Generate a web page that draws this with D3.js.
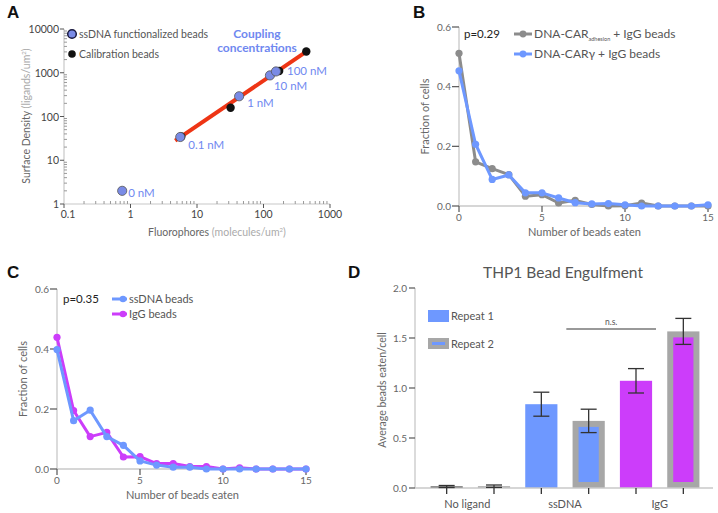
<!DOCTYPE html>
<html><head><meta charset="utf-8">
<script src="https://cdn.jsdelivr.net/npm/d3@7"></script>
<style>body{margin:0;background:#fff}svg{display:block}text{font-family:Lato,"Open Sans",sans-serif}</style>
</head><body>
<svg id="c" width="718" height="513"></svg>
<script>
// ---------- DATA ----------
// Panel A
const ssdnaLabels = ["0 nM","0.1 nM","1 nM","10 nM","100 nM"];
const ssdnaX = [0.75, 5.6, 43, 125, 154];
const ssdnaY = [2, 34, 290, 870, 1070];
const calibX = [5.8, 32, 172, 440];
const calibY = [35, 158, 1100, 3050];
const fitX = [4.7, 440];
const fitY = [28, 3050];
const aXTicks = [0.1, 1, 10, 100, 1000];
const aYTicks = [1, 10, 100, 1000, 10000];
// Panel B
const beadsEaten = d3.range(0, 16);
const bAdhesion = [0.512,0.148,0.125,0.105,0.033,0.038,0.010,0.019,0.005,0.000,0.001,0.010,0.000,0.000,0.000,0.000];
const bGamma    = [0.453,0.207,0.089,0.104,0.044,0.044,0.027,0.011,0.007,0.008,0.004,0.000,0.000,0.000,0.000,0.004];
// Panel C
const cIgG   = [0.439,0.195,0.108,0.122,0.040,0.041,0.018,0.018,0.008,0.008,0.000,0.004,0.000,0.000,0.000,0.000];
const cSsDNA = [0.398,0.161,0.196,0.108,0.079,0.027,0.013,0.006,0.006,0.000,0.000,0.000,0.000,0.000,0.000,0.000];
const fracTicks = [0, 0.2, 0.4, 0.6];
const beadTicks = [0, 5, 10, 15];
// Panel D
const dGroups = ["No ligand","ssDNA","IgG"];
const dRepeats = ["Repeat 1","Repeat 2"];
const dMeans = [[0.015,0.018],[0.838,0.671],[1.072,1.566]];
const dErrs  = [[0.010,0.012],[0.120,0.117],[0.122,0.130]];
const dTicks = [0, 0.5, 1.0, 1.5, 2.0];

// ---------- STYLE ----------
const BLUE="#6e98ff", MAG="#cc3dfa", GRAY="#8c8c8c", RED="#ee3515", PBLUE="#7a8be6", LBLUE="#6f88f0";
const svg = d3.select("#c");
const AX="#c8c8c8", TK="#555", TXT="#666";

function letter(t,x,y){svg.append("text").attr("x",x).attr("y",y).text(t)
  .style("font-family","'Liberation Sans',Arial,sans-serif").style("font-weight","bold").style("font-size","17px").attr("fill","#111");}
letter("A",7,18); letter("B",413,18); letter("C",7,278); letter("D",348,278);

// ---------- PANEL A ----------
(function(){
  const x = d3.scaleLog().domain([0.1,1000]).range([64,330]);
  const y = d3.scaleLog().domain([1,10000]).range([204,29]);
  const g = svg.append("g");
  g.append("line").attr("x1",64).attr("x2",330).attr("y1",204).attr("y2",204).attr("stroke",AX).attr("stroke-width",1.2);
  g.append("line").attr("x1",64).attr("x2",64).attr("y1",29).attr("y2",204).attr("stroke",AX).attr("stroke-width",1.2);
  const minorX = [], minorY = [];
  aXTicks.slice(0,-1).forEach(d=>{for(let k=2;k<10;k++)minorX.push(d*k);});
  aYTicks.slice(0,-1).forEach(d=>{for(let k=2;k<10;k++)minorY.push(d*k);});
  g.selectAll(".mx").data(minorX).join("line").attr("x1",d=>x(d)).attr("x2",d=>x(d)).attr("y1",204).attr("y2",201).attr("stroke","#999");
  g.selectAll(".my").data(minorY).join("line").attr("y1",d=>y(d)).attr("y2",d=>y(d)).attr("x1",64).attr("x2",67).attr("stroke","#999");
  g.selectAll(".Mx").data(aXTicks).join("line").attr("x1",d=>x(d)).attr("x2",d=>x(d)).attr("y1",204).attr("y2",208).attr("stroke",TK);
  g.selectAll(".My").data(aYTicks).join("line").attr("y1",d=>y(d)).attr("y2",d=>y(d)).attr("x1",60).attr("x2",64).attr("stroke",TK);
  g.selectAll(".lx").data(aXTicks).join("text").attr("x",d=>x(d)+(d===0.1?4:0)).attr("y",218).attr("text-anchor","middle")
    .style("font-size","10.5px").attr("fill","#444").text(d=>d);
  g.selectAll(".ly").data(aYTicks).join("text").attr("x",59).attr("y",d=>y(d)+4).attr("text-anchor","end")
    .style("font-size","10.5px").attr("fill","#444").text(d=>d);
  const xt = g.append("text").attr("x",217).attr("y",236).attr("text-anchor","middle").style("font-size","10.5px");
  xt.append("tspan").attr("fill","#666").text("Fluorophores ");
  xt.append("tspan").attr("fill","#aaa").text("(molecules/um");
  xt.append("tspan").attr("fill","#aaa").attr("dy",-4).style("font-size","6px").text("2");
  xt.append("tspan").attr("fill","#aaa").attr("dy",4).text(")");
  const yt = g.append("text").attr("transform","translate(30,116) rotate(-90)").attr("text-anchor","middle").style("font-size","10.5px");
  yt.append("tspan").attr("fill","#666").text("Surface Density ");
  yt.append("tspan").attr("fill","#aaa").text("(ligands/um");
  yt.append("tspan").attr("fill","#aaa").attr("dy",-4).style("font-size","6px").text("2");
  yt.append("tspan").attr("fill","#aaa").attr("dy",4).text(")");
  const fit = fitX.map((d,i)=>[d,fitY[i]]);
  g.append("path").datum(fit).attr("d",d3.line().x(d=>x(d[0])).y(d=>y(d[1]))).attr("stroke",RED).attr("stroke-width",4).attr("fill","none");
  g.selectAll(".cal").data(calibX.map((d,i)=>[d,calibY[i]])).join("circle")
    .attr("cx",d=>x(d[0])).attr("cy",d=>y(d[1])).attr("r",4.2).attr("fill","#111");
  const pts = ssdnaX.map((d,i)=>({x:d,y:ssdnaY[i],l:ssdnaLabels[i]}));
  g.selectAll(".ss").data(pts).join("circle").attr("cx",d=>x(d.x)).attr("cy",d=>y(d.y)).attr("r",4.6)
    .attr("fill",PBLUE).attr("stroke","#555").attr("stroke-width",0.8);
  const offs = {"0 nM":[6,6],"0.1 nM":[8,12],"1 nM":[8,11],"10 nM":[4,14.5],"100 nM":[11,3.5]};
  g.selectAll(".sl").data(pts).join("text").attr("x",d=>x(d.x)+offs[d.l][0]).attr("y",d=>y(d.y)+offs[d.l][1])
    .style("font-size","11.5px").attr("fill",LBLUE).text(d=>d.l);
  g.append("circle").attr("cx",72).attr("cy",34).attr("r",4.3).attr("fill",PBLUE).attr("stroke","#1a1a40").attr("stroke-width",1.5);
  g.append("text").attr("x",79).attr("y",38).style("font-size","10.5px").attr("fill","#555").text("ssDNA functionalized beads");
  g.append("circle").attr("cx",72).attr("cy",54).attr("r",3.8).attr("fill","#111");
  g.append("text").attr("x",79).attr("y",58).style("font-size","10.5px").attr("fill","#555").text("Calibration beads");
  g.append("text").attr("x",257).attr("y",38).attr("text-anchor","middle").style("font-size","12px").style("font-weight","bold").attr("fill",LBLUE).text("Coupling");
  g.append("text").attr("x",257).attr("y",52).attr("text-anchor","middle").style("font-size","12px").style("font-weight","bold").attr("fill",LBLUE).text("concentrations");
})();

// ---------- LINE PANELS (B, C) ----------
function linePanel(x0,x1,y0,y1,series){
  const x = d3.scaleLinear().domain([0,15]).range([x0,x1]);
  const y = d3.scaleLinear().domain([0,0.6]).range([y0,y1]);
  const g = svg.append("g");
  g.append("line").attr("x1",x0).attr("x2",x1).attr("y1",y0).attr("y2",y0).attr("stroke",AX).attr("stroke-width",1.3);
  g.append("line").attr("x1",x0).attr("x2",x0).attr("y1",y1).attr("y2",y0).attr("stroke",AX).attr("stroke-width",1.3);
  g.selectAll(".tx").data(beadTicks).join("line").attr("x1",d=>x(d)).attr("x2",d=>x(d)).attr("y1",y0).attr("y2",y0+6).attr("stroke",TK).attr("stroke-width",1.2);
  g.selectAll(".ty").data(fracTicks).join("line").attr("y1",d=>y(d)).attr("y2",d=>y(d)).attr("x1",x0-7).attr("x2",x0).attr("stroke",TK).attr("stroke-width",1.2);
  g.selectAll(".lx").data(beadTicks).join("text").attr("x",d=>x(d)).attr("y",y0+15).attr("text-anchor","middle").style("font-size","10px").attr("fill",TXT).text(d=>d);
  g.selectAll(".ly").data(fracTicks).join("text").attr("x",x0-8).attr("y",d=>y(d)+3.5).attr("text-anchor","end").style("font-size","10px").attr("fill",TXT).text(d3.format(".1f"));
  g.append("text").attr("x",(x0+x1)/2+1).attr("y",y0+30).attr("text-anchor","middle").style("font-size","11px").attr("fill",TXT).text("Number of beads eaten");
  g.append("text").attr("transform",`translate(${x0-30},${(y0+y1)/2})rotate(-90)`).attr("text-anchor","middle").style("font-size","11px").attr("fill",TXT).text("Fraction of cells");
  const line = d3.line().x((d,i)=>x(beadsEaten[i])).y(d=>y(d));
  series.forEach(s=>{
    g.append("path").datum(s.v).attr("d",line).attr("stroke",s.c).attr("stroke-width",3).attr("fill","none").attr("stroke-linejoin","round");
    g.selectAll(null).data(s.v).join("circle").attr("cx",(d,i)=>x(beadsEaten[i])).attr("cy",d=>y(d)).attr("r",3.6).attr("fill",s.c);
  });
  return g;
}
(function(){
  const g = linePanel(459,708,206,27,[{v:bAdhesion,c:GRAY},{v:bGamma,c:BLUE}]);
  g.append("text").attr("x",464).attr("y",38).style("font-size","11.5px").attr("fill","#222").text("p=0.29");
  [[GRAY,34],[BLUE,54]].forEach(([c,yy])=>{
    g.append("line").attr("x1",514).attr("x2",532).attr("y1",yy).attr("y2",yy).attr("stroke",c).attr("stroke-width",3);
    g.append("circle").attr("cx",523).attr("cy",yy).attr("r",3.4).attr("fill",c);
  });
  const t1 = g.append("text").attr("x",534).attr("y",38).style("font-size","12px").attr("fill","#555");
  t1.append("tspan").text("DNA-CAR");
  t1.append("tspan").attr("dy",3).style("font-size","5.5px").text("adhesion");
  t1.append("tspan").attr("dy",-3).text(" + IgG beads");
  g.append("text").attr("x",534).attr("y",58).style("font-size","12px").attr("fill","#555").text("DNA-CARγ + IgG beads");
})();
(function(){
  const g = linePanel(57,306,469,289,[{v:cIgG,c:MAG},{v:cSsDNA,c:BLUE}]);
  g.append("text").attr("x",63).attr("y",303).style("font-size","11.5px").attr("fill","#222").text("p=0.35");
  [[BLUE,299,"ssDNA beads"],[MAG,314,"IgG beads"]].forEach(([c,yy,t])=>{
    g.append("line").attr("x1",112).attr("x2",127).attr("y1",yy).attr("y2",yy).attr("stroke",c).attr("stroke-width",3);
    g.append("circle").attr("cx",123).attr("cy",yy).attr("r",3.3).attr("fill",c);
    g.append("text").attr("x",129).attr("y",yy+4).style("font-size","11px").attr("fill","#555").text(t);
  });
})();

// ---------- PANEL D ----------
(function(){
  const keys = [];
  dGroups.forEach((gname,gi)=>dRepeats.forEach((r,ri)=>keys.push({g:gname,gi,ri,k:gname+"|"+r,m:dMeans[gi][ri],e:dErrs[gi][ri]})));
  const x = d3.scaleBand().domain(keys.map(d=>d.k)).range([423,707]).paddingInner(0.32).paddingOuter(0.16);
  const y = d3.scaleLinear().domain([0,2]).range([488,288]);
  const g = svg.append("g");
  const fillFor = d=> d.gi===0 ? (d.ri===0?"#222":"#ddd") : d.gi===1 ? BLUE : MAG;
  g.append("text").attr("x",563).attr("y",278).attr("text-anchor","middle").style("font-size","15.5px").attr("fill","#555").text("THP1 Bead Engulfment");
  keys.forEach(d=>{
    const bx = x(d.k), bw = x.bandwidth(), top = y(d.m), h = y(0)-top;
    if(d.ri===0){
      g.append("rect").attr("x",bx).attr("y",top).attr("width",bw).attr("height",h).attr("fill",fillFor(d));
    } else {
      g.append("rect").attr("x",bx).attr("y",top).attr("width",bw).attr("height",h).attr("fill","#a7a7a7");
      const ins = Math.min(6, h/2.5);
      if(h>2*ins) g.append("rect").attr("x",bx+6).attr("y",top+ins).attr("width",bw-12).attr("height",h-2*ins).attr("fill",fillFor(d));
    }
  });
  g.append("line").attr("x1",415).attr("x2",713).attr("y1",488).attr("y2",488).attr("stroke",AX).attr("stroke-width",1.3);
  g.append("line").attr("x1",415).attr("x2",415).attr("y1",288).attr("y2",488).attr("stroke",AX).attr("stroke-width",1.3);
  g.selectAll(".ty").data(dTicks).join("line").attr("y1",d=>y(d)).attr("y2",d=>y(d)).attr("x1",409).attr("x2",415).attr("stroke",TK).attr("stroke-width",1.2);
  g.selectAll(".ly").data(dTicks).join("text").attr("x",407).attr("y",d=>y(d)+3.5).attr("text-anchor","end").style("font-size","10px").attr("fill",TXT).text(d3.format(".1f"));
  g.selectAll(".tx").data(keys).join("line").attr("x1",d=>x(d.k)+x.bandwidth()/2).attr("x2",d=>x(d.k)+x.bandwidth()/2).attr("y1",488).attr("y2",494).attr("stroke","#333").attr("stroke-width",1.3);
  keys.forEach(d=>{
    const cx = x(d.k)+x.bandwidth()/2;
    g.append("line").attr("x1",cx).attr("x2",cx).attr("y1",y(d.m+d.e)).attr("y2",y(Math.max(0,d.m-d.e))).attr("stroke","#333").attr("stroke-width",1.3);
    [d.m+d.e, Math.max(0,d.m-d.e)].forEach(v=>g.append("line").attr("x1",cx-8).attr("x2",cx+8).attr("y1",y(v)).attr("y2",y(v)).attr("stroke","#333").attr("stroke-width",1.3));
  });
  dGroups.forEach((gn,gi)=>{
    const cx = (x(gn+"|"+dRepeats[0]) + x(gn+"|"+dRepeats[1]) + x.bandwidth())/2;
    g.append("text").attr("x",cx+(gi===0?-3:0)).attr("y",508).attr("text-anchor","middle").style("font-size","11px").attr("fill","#555").text(gn);
  });
  g.append("text").attr("transform","translate(386,390)rotate(-90)").attr("text-anchor","middle").style("font-size","10.5px").attr("fill",TXT).text("Average beads eaten/cell");
  const nsx1 = x("ssDNA|Repeat 1")+x.bandwidth()/2+25, nsx2 = x("IgG|Repeat 1")+x.bandwidth()/2+20;
  g.append("line").attr("x1",nsx1).attr("x2",nsx2).attr("y1",329).attr("y2",329).attr("stroke","#777").attr("stroke-width",1.3);
  g.append("text").attr("x",(nsx1+nsx2)/2).attr("y",325).attr("text-anchor","middle").style("font-size","8.5px").attr("fill","#555").text("n.s.");
  g.append("rect").attr("x",428).attr("y",310).attr("width",21).attr("height",12).attr("fill",BLUE);
  g.append("text").attr("x",451).attr("y",320).style("font-size","11px").attr("fill","#555").text(dRepeats[0]);
  g.append("rect").attr("x",428).attr("y",338).attr("width",21).attr("height",11).attr("fill","#a7a7a7");
  g.append("rect").attr("x",432).attr("y",342).attr("width",13).attr("height",3).attr("fill",BLUE);
  g.append("text").attr("x",451).attr("y",348).style("font-size","11px").attr("fill","#555").text(dRepeats[1]);
})();
</script>
</body></html>
